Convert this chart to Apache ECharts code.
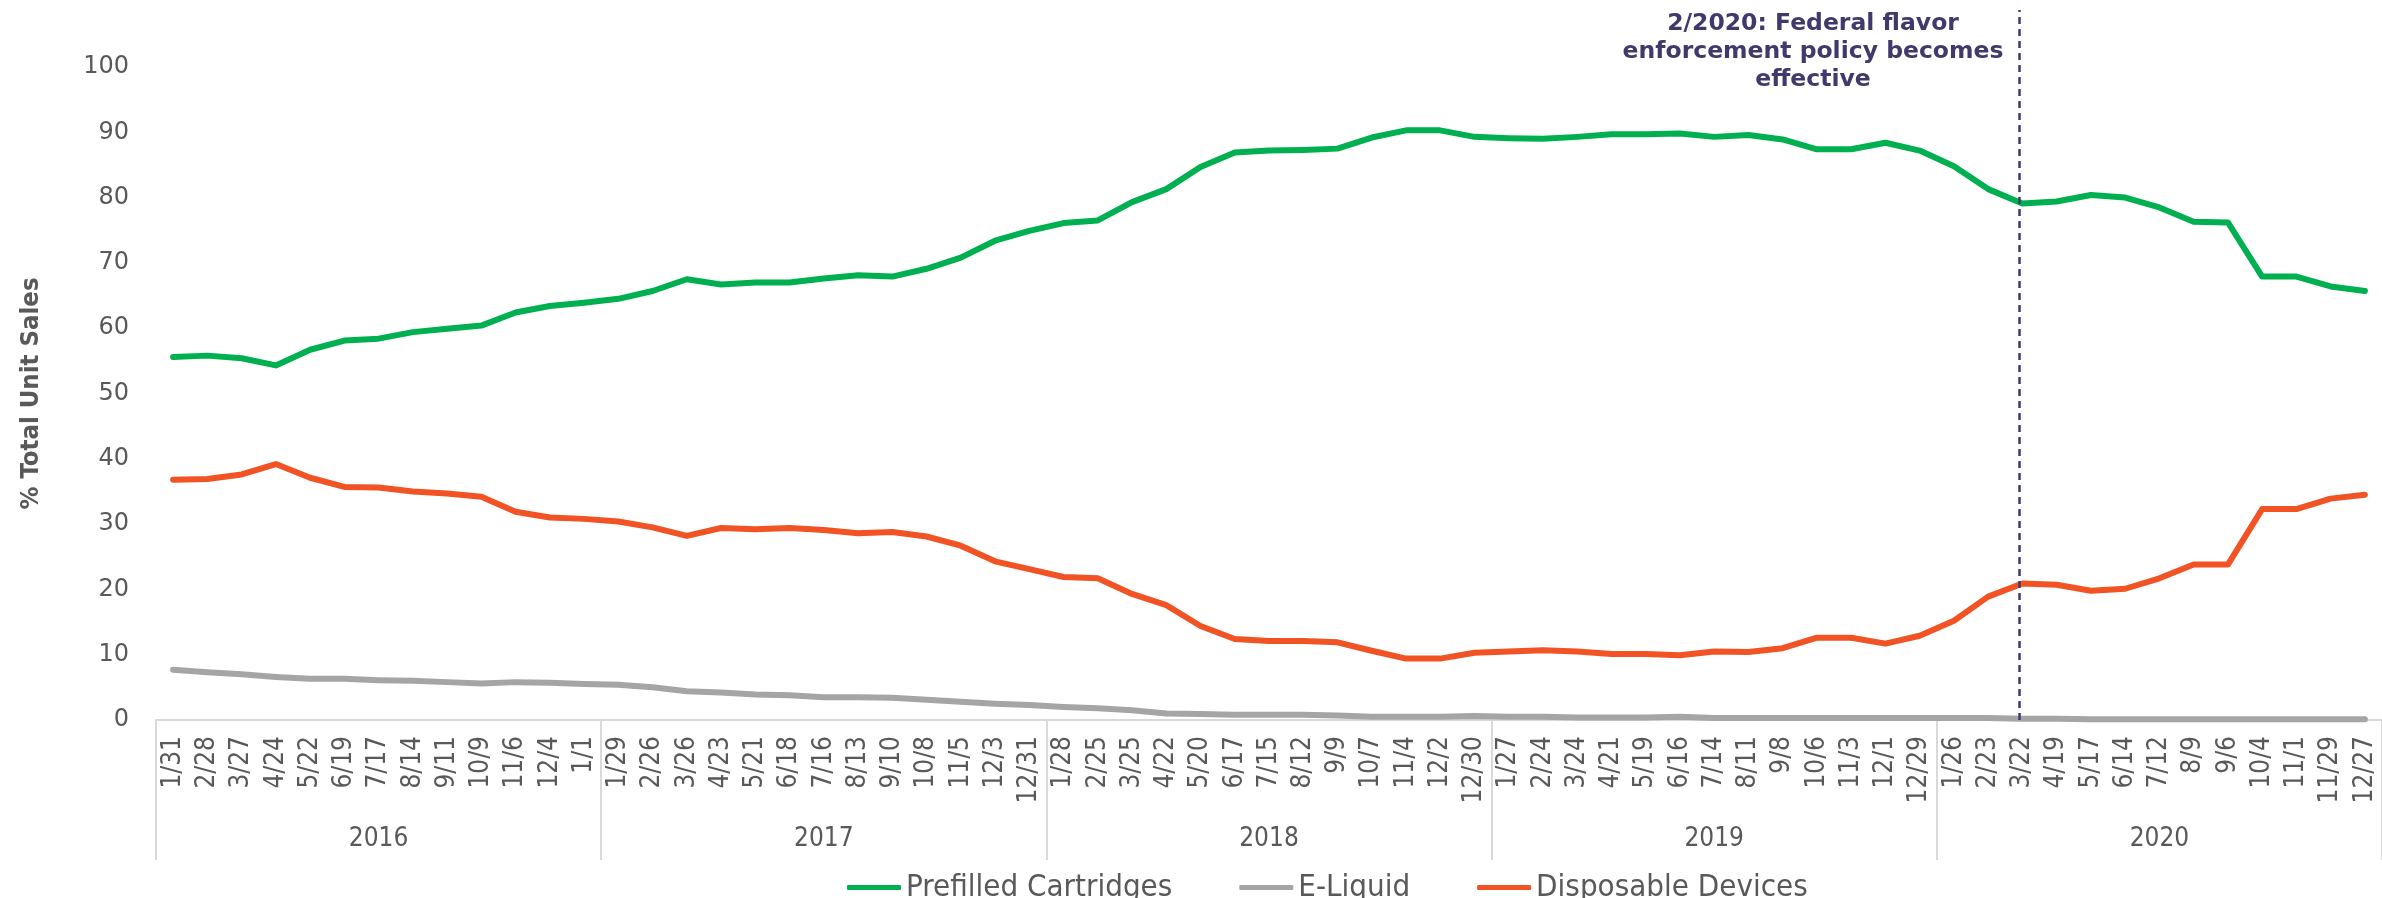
<!DOCTYPE html>
<html>
<head>
<meta charset="utf-8">
<script src="https://cdn.jsdelivr.net/npm/echarts@6/dist/echarts.min.js"></script>
<style>
  html, body { margin: 0; padding: 0; background: #fff; }
  #chart { width: 2382px; height: 898px; }
</style>
</head>
<body>
<div id="chart"></div>
<script>
// 4-week periods, grouped by year on the axis
const weeks = [
  '1/31', '2/28', '3/27', '4/24', '5/22', '6/19', '7/17', '8/14', '9/11', '10/9', '11/6', '12/4', '1/1',
  '1/29', '2/26', '3/26', '4/23', '5/21', '6/18', '7/16', '8/13', '9/10', '10/8', '11/5', '12/3', '12/31',
  '1/28', '2/25', '3/25', '4/22', '5/20', '6/17', '7/15', '8/12', '9/9', '10/7', '11/4', '12/2', '12/30',
  '1/27', '2/24', '3/24', '4/21', '5/19', '6/16', '7/14', '8/11', '9/8', '10/6', '11/3', '12/1', '12/29',
  '1/26', '2/23', '3/22', '4/19', '5/17', '6/14', '7/12', '8/9', '9/6', '10/4', '11/1', '11/29', '12/27'
]
const years = ['2016', '2017', '2018', '2019', '2020']

const prefilled = [
  55.6, 55.8, 55.4, 54.3, 56.7, 58.1, 58.4, 59.4, 59.9, 60.4, 62.4, 63.4, 63.9,
  64.5, 65.7, 67.5, 66.7, 67.0, 67.0, 67.6, 68.1, 67.9, 69.1, 70.8, 73.4, 74.9,
  76.1, 76.5, 79.3, 81.3, 84.7, 86.9, 87.2, 87.3, 87.5, 89.2, 90.3, 90.3, 89.3,
  89.1, 89.0, 89.3, 89.7, 89.7, 89.8, 89.3, 89.6, 88.9, 87.4, 87.4, 88.4, 87.2,
  84.8, 81.3, 79.1, 79.4, 80.4, 80.0, 78.5, 76.3, 76.2, 67.9, 67.9, 66.4, 65.7
]
const eLiquid = [
  7.7, 7.3, 7.0, 6.6, 6.3, 6.3, 6.1, 6.0, 5.8, 5.6, 5.8, 5.7, 5.5,
  5.4, 5.0, 4.4, 4.2, 3.9, 3.8, 3.5, 3.5, 3.4, 3.1, 2.8, 2.5, 2.3,
  2.0, 1.8, 1.5, 1.0, 0.9, 0.8, 0.8, 0.8, 0.7, 0.5, 0.5, 0.5, 0.6,
  0.5, 0.5, 0.4, 0.4, 0.4, 0.5, 0.3, 0.3, 0.3, 0.3, 0.3, 0.3, 0.3,
  0.3, 0.3, 0.2, 0.2, 0.1, 0.1, 0.1, 0.1, 0.1, 0.1, 0.1, 0.1, 0.1
]
const disposable = [
  36.8, 36.9, 37.6, 39.2, 37.1, 35.7, 35.6, 35.0, 34.7, 34.2, 31.9, 31.0, 30.8,
  30.4, 29.5, 28.2, 29.4, 29.2, 29.4, 29.1, 28.6, 28.8, 28.1, 26.7, 24.3, 23.1,
  21.9, 21.7, 19.3, 17.6, 14.4, 12.4, 12.1, 12.1, 11.9, 10.6, 9.4, 9.4, 10.3,
  10.5, 10.7, 10.5, 10.1, 10.1, 9.9, 10.5, 10.4, 11.0, 12.6, 12.6, 11.7, 12.9,
  15.2, 18.9, 20.9, 20.7, 19.8, 20.1, 21.7, 23.8, 23.8, 32.3, 32.3, 33.9, 34.5
]

// policy date sits between 2/23 and 3/22 (category index units)
const policyPos = 53.9
const policyText = '2/2020: Federal flavor\nenforcement policy becomes\neffective'

const labelFont = '"DejaVu Sans Condensed", "DejaVu Sans", sans-serif'
const textColor = '#595959'

const chart = echarts.init(document.getElementById('chart'))

function seriesLine(name, data, color) {
  return {
    name: name,
    type: 'line',
    data: data,
    symbol: 'none',
    lineStyle: { color: color, width: 6, cap: 'round', join: 'round' },
    itemStyle: { color: color }
  }
}

chart.setOption({
  animation: false,
  grid: [
    { left: 156, right: -6, top: 67, bottom: 178 },
    // taller twin grid, only for the dashed policy line
    { left: 156, right: -6, top: 10, bottom: 178 }
  ],
  legend: {
    left: 842,
    top: 867,
    icon: 'roundRect',
    itemWidth: 54,
    itemHeight: 5,
    itemGap: 67,
    textStyle: { fontFamily: labelFont, fontSize: 31, color: textColor },
    data: ['Prefilled Cartridges', 'E-Liquid', 'Disposable Devices']
  },
  xAxis: [
    {
      type: 'category',
      data: weeks,
      position: 'bottom',
      axisLine: { lineStyle: { color: '#D9D9D9', width: 2 } },
      axisTick: { show: false },
      axisLabel: {
        interval: 0,
        rotate: 90,
        margin: 16,
        fontFamily: labelFont,
        fontSize: 26,
        color: textColor
      }
    },
    {
      type: 'category',
      data: years,
      position: 'bottom',
      axisLine: { show: false },
      axisTick: { show: true, length: 140, lineStyle: { color: '#D9D9D9', width: 2 } },
      axisLabel: {
        margin: 106,
        fontFamily: labelFont,
        fontSize: 26,
        color: textColor
      }
    },
    { type: 'value', gridIndex: 1, min: -0.5, max: 64.5, show: false }
  ],
  yAxis: [
    {
      type: 'value',
      min: 0,
      max: 100,
      interval: 10,
      name: '% Total Unit Sales',
      nameLocation: 'middle',
      nameGap: 112,
      nameTextStyle: {
        fontFamily: labelFont,
        fontWeight: 'bold',
        fontSize: 25.5,
        color: textColor
      },
      axisLine: { show: false },
      axisTick: { show: false },
      splitLine: { show: false },
      axisLabel: {
        margin: 27,
        fontFamily: '"DejaVu Sans", sans-serif',
        fontSize: 24,
        color: textColor
      }
    },
    { type: 'value', gridIndex: 1, min: 0, max: 1, show: false }
  ],
  series: [
    seriesLine('Prefilled Cartridges', prefilled, '#00B050'),
    seriesLine('E-Liquid', eLiquid, '#A5A5A5'),
    seriesLine('Disposable Devices', disposable, '#F15325'),
    {
      name: 'policy',
      type: 'line',
      xAxisIndex: 2,
      yAxisIndex: 1,
      data: [[policyPos, 0]],
      symbol: 'none',
      silent: true,
      markLine: {
        symbol: 'none',
        silent: true,
        label: { show: false },
        lineStyle: { color: '#3F3A6B', width: 2.5, type: [7, 5] },
        data: [{ xAxis: policyPos }]
      }
    }
  ],
  graphic: [
    {
      type: 'text',
      x: 1813,
      y: 10,
      style: {
        text: policyText,
        align: 'center',
        verticalAlign: 'top',
        font: 'bold 23.5px "DejaVu Sans", sans-serif',
        lineHeight: 28,
        fill: '#41396B'
      }
    }
  ]
})
</script>
</body>
</html>
